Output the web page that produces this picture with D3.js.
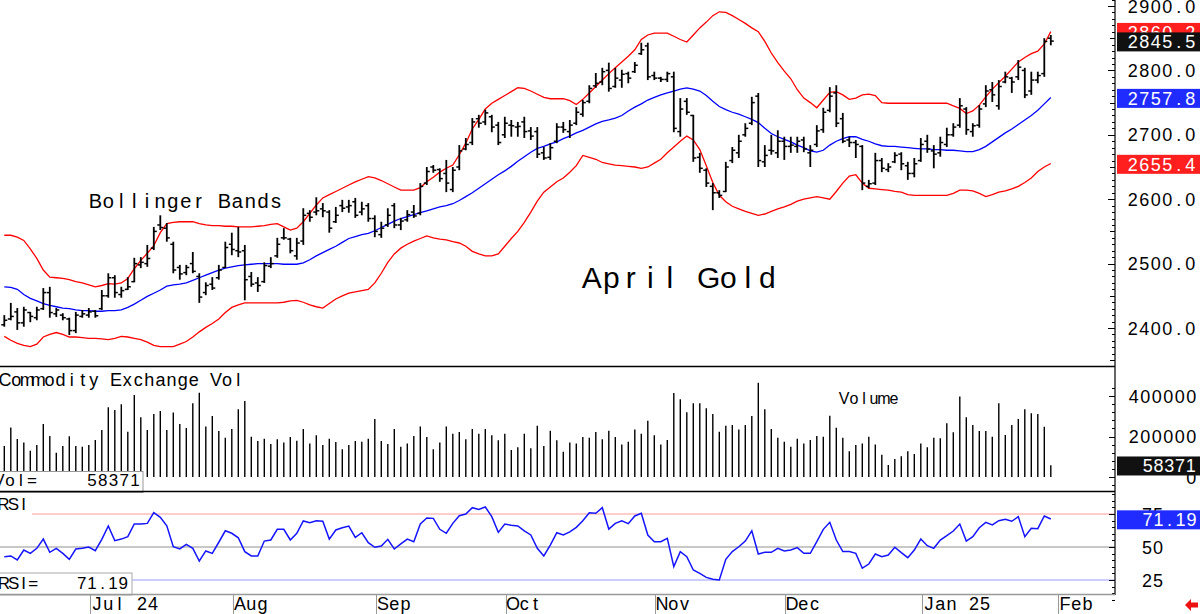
<!DOCTYPE html>
<html>
<head>
<meta charset="utf-8">
<script src="https://cdnjs.cloudflare.com/ajax/libs/d3/7.8.5/d3.min.js"></script>
<style>
  body { margin: 0; background: #fff; }
  svg { display: block; font-family: "Liberation Sans", Arial, sans-serif; }
</style>
</head>
<body>
<script>
var width = 1200, height = 614;
var axisX = 1115;

// daily bars, Jun 14 2024 .. Jan 31 2025 (index = trading day)
var high = [2420,2439,2431,2433,2425,2433,2462,2464,2431,2423,
  2416,2425,2428,2431,2428,2459,2485,2482,2464,2479,
  2509,2510,2529,2557,2575,2563,2534,2498,2498,2518,
  2485,2471,2479,2498,2534,2548,2557,2529,2487,2479,
  2502,2510,2540,2555,2540,2540,2586,2583,2603,2594,
  2583,2588,2599,2599,2602,2596,2594,2575,2565,2586,
  2594,2571,2583,2591,2625,2650,2653,2648,2661,2650,
  2684,2695,2726,2731,2739,2731,2720,2728,2723,2720,
  2728,2712,2712,2681,2687,2718,2720,2723,2743,2754,
  2777,2796,2804,2812,2804,2801,2798,2813,2843,2843,
  2798,2790,2798,2798,2757,2757,2731,2672,2648,2625,
  2614,2658,2681,2700,2718,2759,2765,2684,2700,2707,
  2697,2697,2697,2697,2684,2715,2742,2774,2777,2734,
  2697,2692,2684,2630,2672,2664,2656,2673,2673,2658,
  2664,2695,2700,2684,2697,2711,2718,2757,2743,2718,
  2746,2777,2782,2785,2798,2790,2816,2804,2798,2798,
  2850,2855];
var low = [2402,2412,2397,2402,2409,2412,2428,2416,2417,2412,
  2389,2392,2416,2416,2416,2428,2447,2447,2447,2459,
  2471,2493,2495,2521,2552,2534,2485,2475,2482,2485,
  2439,2451,2459,2475,2493,2513,2510,2443,2464,2456,
  2470,2493,2509,2537,2516,2506,2529,2565,2575,2572,
  2548,2563,2580,2579,2571,2575,2565,2541,2540,2557,
  2555,2552,2565,2571,2575,2622,2641,2627,2611,2611,
  2645,2676,2684,2711,2715,2704,2684,2695,2697,2697,
  2695,2692,2664,2661,2661,2687,2703,2695,2715,2728,
  2749,2773,2777,2767,2773,2773,2780,2796,2824,2785,
  2785,2782,2782,2704,2697,2731,2658,2641,2619,2583,
  2602,2611,2656,2664,2697,2715,2650,2650,2669,2664,
  2661,2672,2672,2673,2650,2681,2703,2735,2712,2687,
  2681,2664,2614,2617,2622,2642,2642,2656,2645,2630,
  2634,2658,2672,2648,2666,2681,2697,2711,2700,2697,
  2711,2743,2751,2739,2780,2765,2785,2757,2762,2780,
  2790,2839];
var open = [2405,2414,2425,2408,2424,2416,2430,2455,2422,2420,
  2414,2396,2418,2420,2426,2430,2450,2478,2452,2460,
  2472,2498,2500,2524,2560,2555,2530,2494,2486,2500,
  2480,2455,2468,2478,2494,2530,2520,2520,2480,2470,
  2472,2496,2512,2540,2538,2512,2535,2578,2580,2585,
  2580,2565,2590,2588,2596,2580,2590,2570,2545,2560,
  2590,2560,2568,2580,2578,2625,2650,2646,2640,2615,
  2650,2678,2688,2725,2720,2728,2715,2700,2715,2712,
  2720,2706,2705,2672,2665,2690,2712,2705,2718,2732,
  2752,2776,2782,2800,2775,2785,2795,2798,2826,2838,
  2792,2788,2786,2790,2705,2752,2730,2665,2645,2620,
  2610,2612,2660,2672,2700,2718,2760,2658,2676,2672,
  2690,2682,2682,2692,2672,2685,2708,2738,2765,2725,
  2692,2688,2682,2620,2625,2660,2646,2658,2670,2652,
  2640,2660,2690,2675,2672,2685,2700,2715,2740,2705,
  2715,2748,2770,2745,2782,2788,2790,2800,2768,2785,
  2795,2850];
var close = [2412,2418,2408,2428,2418,2428,2455,2424,2428,2416,
  2396,2420,2422,2425,2419,2450,2478,2455,2458,2464,
  2500,2502,2508,2550,2556,2540,2490,2484,2494,2488,
  2448,2466,2462,2490,2525,2522,2518,2475,2468,2466,
  2497,2500,2530,2540,2520,2532,2575,2572,2582,2582,
  2555,2575,2586,2590,2575,2585,2570,2550,2555,2575,
  2560,2566,2576,2574,2620,2643,2645,2632,2625,2645,
  2675,2685,2720,2718,2734,2712,2688,2718,2714,2713,
  2705,2698,2670,2664,2680,2712,2708,2715,2735,2750,
  2772,2780,2798,2772,2788,2794,2788,2808,2832,2790,
  2788,2786,2795,2710,2740,2735,2664,2648,2625,2610,
  2606,2650,2676,2690,2710,2750,2660,2668,2675,2690,
  2682,2684,2690,2678,2676,2706,2735,2760,2718,2690,
  2688,2685,2625,2624,2660,2648,2650,2668,2655,2640,
  2655,2685,2678,2670,2688,2700,2712,2745,2708,2714,
  2740,2768,2762,2775,2790,2782,2805,2762,2785,2792,
  2845,2845.5];

// Bollinger bands as drawn
var bbUpper = [2544,2544,2541,2536,2523,2508,2490,2479,2478,2477,
  2475,2472,2470,2467,2464,2466,2469,2468,2470,2477,
  2492,2505,2516,2528,2548,2562,2564,2565,2565,2565,
  2562,2560,2559,2559,2558,2558,2557,2557,2557,2558,
  2559,2561,2562,2557,2552,2555,2565,2578,2591,2602,
  2607,2612,2617,2622,2627,2631,2635,2633,2629,2624,
  2619,2614,2614,2614,2618,2627,2634,2642,2648,2653,
  2669,2687,2709,2724,2740,2749,2755,2761,2767,2773,
  2772,2768,2763,2758,2756,2756,2756,2753,2747,2755,
  2765,2775,2785,2795,2804,2813,2822,2832,2848,2855,
  2858,2858,2858,2853,2848,2844,2855,2866,2875,2885,
  2891,2890,2885,2879,2873,2866,2860,2845,2827,2812,
  2799,2787,2770,2757,2750,2742,2754,2766,2767,2762,
  2755,2757,2762,2763,2761,2750,2749,2749,2749,2749,
  2749,2749,2749,2749,2749,2749,2745,2741,2733,2737,
  2746,2759,2771,2781,2791,2802,2813,2820,2826,2830,
  2841,2860.2];
var bbMid = [2464,2463,2460,2452,2446,2442,2438,2435,2433,2431,
  2430,2428,2427,2427,2426,2426,2427,2427,2428,2432,
  2437,2443,2449,2454,2459,2465,2467,2468,2470,2474,
  2478,2482,2486,2490,2493,2495,2497,2498,2499,2500,
  2500,2500,2500,2499,2499,2499,2501,2506,2512,2517,
  2522,2527,2533,2539,2542,2545,2547,2551,2556,2561,
  2566,2570,2573,2576,2579,2582,2585,2588,2590,2593,
  2598,2604,2610,2617,2624,2631,2638,2644,2651,2659,
  2666,2673,2679,2682,2686,2689,2694,2698,2703,2707,
  2712,2717,2721,2723,2726,2730,2737,2743,2748,2754,
  2758,2762,2765,2768,2771,2773,2771,2768,2761,2752,
  2744,2739,2735,2732,2728,2724,2719,2710,2702,2697,
  2693,2689,2684,2680,2675,2673,2676,2684,2690,2694,
  2697,2697,2693,2690,2686,2683,2682,2682,2681,2680,
  2679,2678,2678,2677,2677,2676,2676,2675,2674,2674,
  2677,2682,2689,2696,2703,2709,2716,2723,2730,2738,
  2748,2757.8];
var bbLower = [2387,2381,2376,2373,2371,2375,2386,2390,2393,2390,
  2386,2386,2385,2384,2384,2383,2382,2384,2387,2386,
  2384,2382,2378,2373,2371,2371,2371,2375,2379,2386,
  2394,2401,2407,2414,2424,2432,2436,2439,2439,2439,
  2439,2439,2439,2440,2442,2443,2440,2436,2433,2431,
  2438,2445,2450,2454,2456,2458,2460,2470,2485,2502,
  2515,2524,2530,2535,2539,2543,2540,2538,2537,2534,
  2532,2527,2519,2515,2512,2512,2515,2527,2539,2550,
  2564,2580,2597,2611,2619,2627,2633,2642,2652,2668,
  2665,2662,2657,2655,2653,2652,2651,2650,2648,2650,
  2656,2662,2672,2681,2690,2698,2692,2677,2652,2626,
  2606,2596,2589,2585,2581,2578,2575,2577,2581,2585,
  2588,2592,2597,2600,2602,2604,2602,2600,2612,2625,
  2636,2638,2625,2617,2616,2615,2614,2612,2611,2607,
  2606,2606,2606,2606,2606,2606,2609,2614,2614,2613,
  2609,2604,2607,2611,2613,2616,2620,2626,2633,2643,
  2650,2655.4];

// volume in thousands of contracts
var volumeK = [153,245,188,170,130,158,262,202,120,153,
  201,153,150,158,183,232,344,331,359,224,
  405,295,232,311,326,232,318,262,242,364,
  416,249,301,227,194,237,334,375,199,178,
  189,163,186,170,198,179,237,166,206,158,
  189,173,137,158,178,174,189,286,178,163,
  237,150,166,202,250,198,137,170,250,214,
  222,186,237,214,237,206,181,214,133,147,
  214,142,253,153,229,181,125,170,166,198,
  194,222,186,229,198,161,174,234,214,278,
  206,161,183,415,384,320,364,364,339,311,
  224,253,257,235,257,301,466,334,237,194,
  174,150,189,166,183,202,199,303,243,194,
  127,158,166,199,161,110,59,89,102,127,
  114,166,147,194,191,265,221,397,295,257,
  227,227,199,364,207,257,286,334,315,311,
  248,58.371];

var rsi = [42.7,43.2,40.2,47.7,45.2,49,56,46,49,45.2,
  40.7,48.5,49,50,47.2,55.8,65.9,54.8,56,57.8,
  67.4,67.4,67.9,76,72.5,66.1,50.2,48.5,52,49,
  39.4,47,45.2,53.6,62.3,60.4,57,46.5,43.2,43.2,
  54.5,55.3,63.4,63.4,55.3,60.4,69.7,68.4,69.9,69.5,
  56,62.9,64.6,65.9,57.3,60.8,53.3,49.8,50.8,55.8,
  48.5,52.3,56,54,67.4,72,71.7,63.4,60.4,67.9,
  73.7,75,79.8,78.5,80.3,73,61.1,67.4,66.4,65.9,
  62.3,59.1,49,43.2,51.5,60.8,59.1,61.4,64.9,69.9,
  76,75.5,79.8,63.6,67.9,69.9,67.7,73.5,75.5,59.1,
  54,54,56.6,35.1,46.5,42.7,32.6,30,27,25.5,
  25,40.7,46.5,50.2,54.5,62.3,44.7,46,46,49,
  47,47.7,49.5,45.2,45.2,54,63.4,68.7,55.3,46.5,
  46.5,45.2,33.9,37.1,44.7,42.7,43.9,49.8,45.7,41.9,
  47.7,56,51,49,55.3,58.6,62.1,67.4,54.5,57.8,
  64.6,68.7,66.7,69.9,71,69.5,73,57.8,64.2,63.9,
  73.5,71.19];

var monthLabels = ["Jul 24", "Aug", "Sep", "Oct", "Nov", "Dec", "Jan 25", "Feb"];
var monthStart = [13, 35, 57, 77, 100, 120, 141, 162];
var priceTicks = [2400, 2500, 2600, 2700, 2800, 2900];
var volTicksK = [0, 200, 400];
var rsiTicks = [25, 50, 75];

var n = close.length;
var last = n - 1;

var x = d3.scaleLinear().domain([0, 161]).range([4.3, 1050.8]);
var yPrice = d3.scaleLinear().domain([2400, 2900]).range([328, 6]);
var yVol = d3.scaleLinear().domain([0, 400]).range([477, 396]);
var yRsi = d3.scaleLinear().domain([25, 75]).range([580, 514]);

var svg = d3.select("body").append("svg")
  .attr("width", width)
  .attr("height", height);

svg.append("rect").attr("width", width).attr("height", height).attr("fill", "#fff");

// text laid out in fixed character cells (terminal style font)
// x0 = left edge of first cell, or right edge of last cell when anchor == "end"
function gridText(parent, str, x0, y, size, pitch, anchor, fill) {
  str = String(str);
  var start = anchor == "end" ? x0 - str.length * pitch : x0;
  var t = parent.append("text")
    .attr("y", y)
    .attr("font-size", size + "px")
    .attr("text-anchor", "middle")
    .attr("fill", fill || "#000");
  str.split("").forEach(function(ch, k) {
    if (ch == " ") return;
    t.append("tspan")
      .attr("x", start + (k + 0.5) * pitch)
      .attr("y", y)
      .text(ch);
  });
  return t;
}

// ---- price panel
var bands = [
  { vals: bbUpper, color: "#ff0000" },
  { vals: bbLower, color: "#ff0000" },
  { vals: bbMid, color: "#0000ff" }
];
var bandLine = d3.line()
  .x(function(d, i) { return x(i); })
  .y(function(d) { return yPrice(d); });

svg.append("g").selectAll("path")
  .data(bands)
  .enter()
  .append("path")
  .attr("d", function(d) { return bandLine(d.vals); })
  .attr("fill", "none")
  .attr("stroke", function(d) { return d.color; })
  .attr("stroke-width", 1.3);

var bars = svg.append("g").attr("stroke", "#000");
var idx = d3.range(n);
bars.selectAll(".hl").data(idx).enter().append("line")
  .attr("x1", function(i) { return x(i); })
  .attr("x2", function(i) { return x(i); })
  .attr("y1", function(i) { return yPrice(high[i]); })
  .attr("y2", function(i) { return yPrice(low[i]); })
  .attr("stroke-width", 1.8);
bars.selectAll(".op").data(idx).enter().append("line")
  .attr("x1", function(i) { return x(i) - 3; })
  .attr("x2", function(i) { return x(i); })
  .attr("y1", function(i) { return yPrice(open[i]); })
  .attr("y2", function(i) { return yPrice(open[i]); })
  .attr("stroke-width", 1.5);
bars.selectAll(".cl").data(idx).enter().append("line")
  .attr("x1", function(i) { return x(i); })
  .attr("x2", function(i) { return x(i) + 3; })
  .attr("y1", function(i) { return yPrice(close[i]); })
  .attr("y2", function(i) { return yPrice(close[i]); })
  .attr("stroke-width", 1.5);

gridText(svg, "Bollinger Bands", 89, 208, 20, 12.9);
gridText(svg, "April Gold", 582, 288, 30, 19.5);

// ---- volume panel
svg.append("g").selectAll("line")
  .data(volumeK)
  .enter()
  .append("line")
  .attr("x1", function(d, i) { return x(i); })
  .attr("x2", function(d, i) { return x(i); })
  .attr("y1", yVol(0))
  .attr("y2", function(d) { return yVol(d); })
  .attr("stroke", "#000")
  .attr("stroke-width", 1.4);

gridText(svg, "Commodity Exchange Vol", -0.5, 386, 18, 11.1);
gridText(svg, "Volume", 839, 404, 16, 10);

svg.append("rect")
  .attr("x", -1).attr("y", 471.5).attr("width", 144).attr("height", 21)
  .attr("fill", "#fff").attr("stroke", "#999");
gridText(svg, "Vol=", -6.5, 486, 17, 11);
gridText(svg, d3.format("d")(volumeK[last] * 1000), 140.5, 486, 17, 10.8, "end");

// ---- RSI panel
var rsiRefs = [
  { v: 75, color: "#ff9a9a", w: 1 },
  { v: 50, color: "#c8c8c8", w: 2 },
  { v: 25, color: "#9a9aff", w: 1 }
];
svg.append("g").selectAll("line")
  .data(rsiRefs)
  .enter()
  .append("line")
  .attr("x1", 0).attr("x2", axisX)
  .attr("y1", function(d) { return yRsi(d.v); })
  .attr("y2", function(d) { return yRsi(d.v); })
  .attr("stroke", function(d) { return d.color; })
  .attr("stroke-width", function(d) { return d.w; });

svg.append("rect")
  .attr("x", 0).attr("y", 494).attr("width", 32).attr("height", 22)
  .attr("fill", "#fff");
gridText(svg, "RSI", -1.5, 510, 17, 10);

svg.append("path")
  .datum(rsi)
  .attr("d", d3.line()
    .x(function(d, i) { return x(i); })
    .y(function(d) { return yRsi(d); }))
  .attr("fill", "none")
  .attr("stroke", "#1414ff")
  .attr("stroke-width", 1.5);

svg.append("rect")
  .attr("x", -1).attr("y", 573).attr("width", 133).attr("height", 22)
  .attr("fill", "#fff").attr("stroke", "#aaa");
gridText(svg, "RSI=", -1, 589, 17, 9.8);
gridText(svg, d3.format(".2f")(rsi[last]), 128.5, 589, 17, 10.4, "end");

// ---- frame: separators, right axis, x axis
svg.append("g").selectAll("line")
  .data([366.5, 491.5])
  .enter()
  .append("line")
  .attr("x1", 0).attr("x2", axisX)
  .attr("y1", function(d) { return d; }).attr("y2", function(d) { return d; })
  .attr("stroke", "#000").attr("stroke-width", 1.4);

svg.append("line")
  .attr("x1", axisX).attr("x2", axisX).attr("y1", 0).attr("y2", 595)
  .attr("stroke", "#000").attr("stroke-width", 1.2);

var ticks = svg.append("g").attr("stroke", "#000").attr("stroke-width", 1);
ticks.selectAll(".pt").data(d3.range(2350, 2911, 10)).enter().append("line")
  .attr("x1", function(d) { return axisX - (d % 100 == 0 ? 7 : d % 50 == 0 ? 5 : 3); })
  .attr("x2", axisX)
  .attr("y1", function(d) { return Math.round(yPrice(d)) + 0.5; })
  .attr("y2", function(d) { return Math.round(yPrice(d)) + 0.5; });
ticks.selectAll(".vt").data(d3.range(-40, 441, 40)).enter().append("line")
  .attr("x1", function(d) { return axisX - (d % 200 == 0 ? 6 : 3); })
  .attr("x2", axisX)
  .attr("y1", function(d) { return Math.round(yVol(d)) + 0.5; })
  .attr("y2", function(d) { return Math.round(yVol(d)) + 0.5; });
ticks.selectAll(".rt").data(d3.range(10, 91, 5)).enter().append("line")
  .attr("x1", function(d) { return axisX - (d % 25 == 0 ? 6 : 3); })
  .attr("x2", axisX)
  .attr("y1", function(d) { return Math.round(yRsi(d)) + 0.5; })
  .attr("y2", function(d) { return Math.round(yRsi(d)) + 0.5; });

svg.append("line")
  .attr("x1", 0).attr("x2", axisX).attr("y1", 594.5).attr("y2", 594.5)
  .attr("stroke", "#999").attr("stroke-width", 1.5);

var months = svg.append("g");
months.selectAll("line").data(monthStart).enter().append("line")
  .attr("x1", function(d) { return Math.round(x(d)) + 1.5; })
  .attr("x2", function(d) { return Math.round(x(d)) + 1.5; })
  .attr("y1", 595).attr("y2", 614)
  .attr("stroke", "#999").attr("stroke-width", 1);
monthStart.forEach(function(d, i) {
  gridText(months, monthLabels[i], Math.round(x(d)) + 2.5, 610, 18, 11.2);
});

// ---- axis labels
var labels = svg.append("g");
priceTicks.forEach(function(d) {
  gridText(labels, d3.format(".1f")(d), 1127, yPrice(d) + 6.5, 18, 11.5);
});
volTicksK.forEach(function(d) {
  gridText(labels, d3.format("d")(d * 1000), 1197, yVol(d) + 6.5, 18, 11.5, "end");
});
rsiTicks.forEach(function(d) {
  gridText(labels, d, 1163.5, yRsi(d) + 6.5, 18, 11, "end");
});

// ---- last value boxes
var boxes = [
  { y: yPrice(bbUpper[last]), fill: "#ff1f1f", text: d3.format(".1f")(bbUpper[last]), x: 1127, anchor: "start", pitch: 11.5 },
  { y: yPrice(close[last]), fill: "#111", text: d3.format(".1f")(close[last]), x: 1127, anchor: "start", pitch: 11.5 },
  { y: yPrice(bbMid[last]), fill: "#1f2bff", text: d3.format(".1f")(bbMid[last]), x: 1127, anchor: "start", pitch: 11.5 },
  { y: yPrice(bbLower[last]), fill: "#ff1f1f", text: d3.format(".1f")(bbLower[last]), x: 1127, anchor: "start", pitch: 11.5 },
  { y: yVol(volumeK[last]), fill: "#111", text: d3.format("d")(volumeK[last] * 1000), x: 1196, anchor: "end", pitch: 10.7 },
  { y: yRsi(rsi[last]), fill: "#1f2bff", text: d3.format(".2f")(rsi[last]), x: 1197, anchor: "end", pitch: 11 }
];
var boxG = svg.append("g");
boxes.forEach(function(d) {
  boxG.append("rect")
    .attr("x", 1117).attr("width", 83)
    .attr("y", d.y - 8.7)
    .attr("height", 19)
    .attr("fill", d.fill);
  gridText(boxG, d.text, d.x, d.y + 7, 18, d.pitch, d.anchor, "#fff");
});

// scroll arrow, bottom right
svg.append("path")
  .attr("d", "M1185,605 L1191,599 L1191,602.5 L1198,602.5 L1198,607.5 L1191,607.5 L1191,611 Z")
  .attr("fill", "#ee1111");
</script>
</body>
</html>
